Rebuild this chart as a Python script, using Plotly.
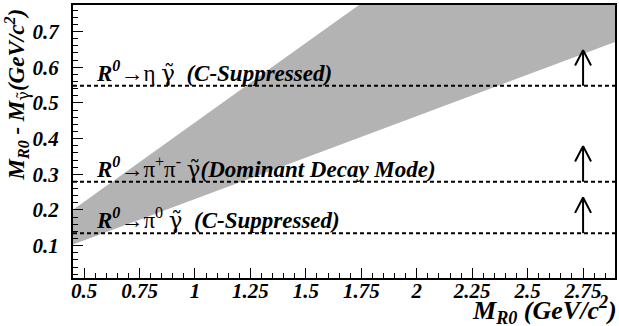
import plotly.graph_objects as go

# ---- data ----
band_x = [0.45, 2.9]
band_lower = [0.103, 0.672]
band_upper = [0.201, 1.29]

thresholds = [0.5479, 0.279, 0.135]
GT = "<span style='font-family:DejaVu Serif'>γ\u0303</span>"
threshold_labels = [
    "<b><i>R<sup>0</sup></i></b>→η " + GT + "  <b><i>(C-Suppressed)</i></b>",
    "<b><i>R<sup>0</sup></i></b>→π<sup>+</sup>π<sup>-</sup> " + GT + "<b><i>(Dominant Decay Mode)</i></b>",
    "<b><i>R<sup>0</sup></i></b>→π<sup>0</sup> " + GT + "  <b><i>(C-Suppressed)</i></b>",
]
arrow_x = 2.75
arrow_len = 0.1

x_tickvals = [0.5, 0.75, 1, 1.25, 1.5, 1.75, 2, 2.25, 2.5, 2.75]
x_ticktext = ["0.5", "0.75", "1", "1.25", "1.5", "1.75", "2", "2.25", "2.5", "2.75"]
y_tickvals = [0.1, 0.2, 0.3, 0.4, 0.5, 0.6, 0.7]
y_ticktext = ["0.1", "0.2", "0.3", "0.4", "0.5", "0.6", "0.7"]

FONT = "Liberation Serif, Times New Roman, serif"
X_RANGE = [0.45, 2.894]

fig = go.Figure()

# band
fig.add_trace(go.Scatter(
    x=band_x + band_x[::-1],
    y=band_lower + band_upper[::-1],
    fill="toself", fillcolor="#b3b3b3", line=dict(width=0),
    mode="lines", hoverinfo="skip", showlegend=False))

# arrows (open V heads) -- drawn on the label-carrying x axis (same range)
head_dx = 0.036
head_dy = 0.043
for t in thresholds:
    tip = t + arrow_len
    fig.add_trace(go.Scatter(
        x=[arrow_x, arrow_x, None, arrow_x - head_dx, arrow_x, arrow_x + head_dx],
        y=[t, tip, None, tip - head_dy, tip, tip - head_dy],
        xaxis="x2", yaxis="y",
        mode="lines", line=dict(color="black", width=2),
        hoverinfo="skip", showlegend=False))

# dashed threshold lines
for t in thresholds:
    fig.add_shape(type="line", xref="paper", x0=0, x1=1, yref="y", y0=t, y1=t,
                  line=dict(color="black", width=2, dash="4px,3px"))

# labels
for t, lab in zip(thresholds, threshold_labels):
    fig.add_annotation(x=0.545, y=t, xref="x", yref="y", text=lab, showarrow=False,
                       xanchor="left", yanchor="bottom", yshift=-2,
                       font=dict(family=FONT, size=23, color="black"))

# axis titles
fig.add_annotation(
    text="<b><i>M<sub>R0</sub> - M</i></b><sub>" + GT + "</sub><b><i>(GeV/c<sup>2</sup>)</i></b>",
    xref="paper", yref="paper", x=-0.103, y=0.995, xanchor="center", yanchor="top",
    textangle=-90, showarrow=False, font=dict(family=FONT, size=23, color="black"))
fig.add_annotation(
    text="<b><i>M<sub>R0</sub> (GeV/c<sup>2</sup>)</i></b>",
    xref="paper", yref="paper", x=1.008, y=-0.118, xanchor="right", yanchor="middle",
    showarrow=False, font=dict(family=FONT, size=26, color="black"))

tickfont = dict(family=FONT, size=21, color="black", weight="bold", style="italic")

fig.update_layout(
    xaxis=dict(range=X_RANGE, tickmode="array", tickvals=x_tickvals, showticklabels=False,
               ticks="inside", ticklen=10, tickwidth=1, tickcolor="black",
               minor=dict(ticks="inside", ticklen=5, tickwidth=1, tickcolor="black",
                          tick0=0.5, dtick=0.05, showgrid=False),
               showgrid=False, zeroline=False, showline=True, linewidth=2, linecolor="black",
               mirror=True),
    xaxis2=dict(range=X_RANGE, overlaying="x", anchor="free", position=0.006, side="bottom",
                tickmode="array", tickvals=x_tickvals, ticktext=x_ticktext, ticks="",
                showline=False, showgrid=False, zeroline=False, tickfont=tickfont),
    yaxis=dict(range=[0.0095, 0.7742], tickmode="array", tickvals=y_tickvals, ticktext=y_ticktext,
               ticks="inside", ticklen=10, tickwidth=1, tickcolor="black",
               minor=dict(ticks="inside", ticklen=5, tickwidth=1, tickcolor="black",
                          tick0=0, dtick=0.02, showgrid=False),
               showgrid=False, zeroline=False, showline=True, linewidth=2, linecolor="black",
               mirror=True, tickfont=tickfont, ticklabelstandoff=8),
    width=619, height=326, margin=dict(l=73, r=2, t=5, b=48),
    plot_bgcolor="white", paper_bgcolor="white", showlegend=False,
    font=dict(family=FONT))

fig.write_html("out.html")
